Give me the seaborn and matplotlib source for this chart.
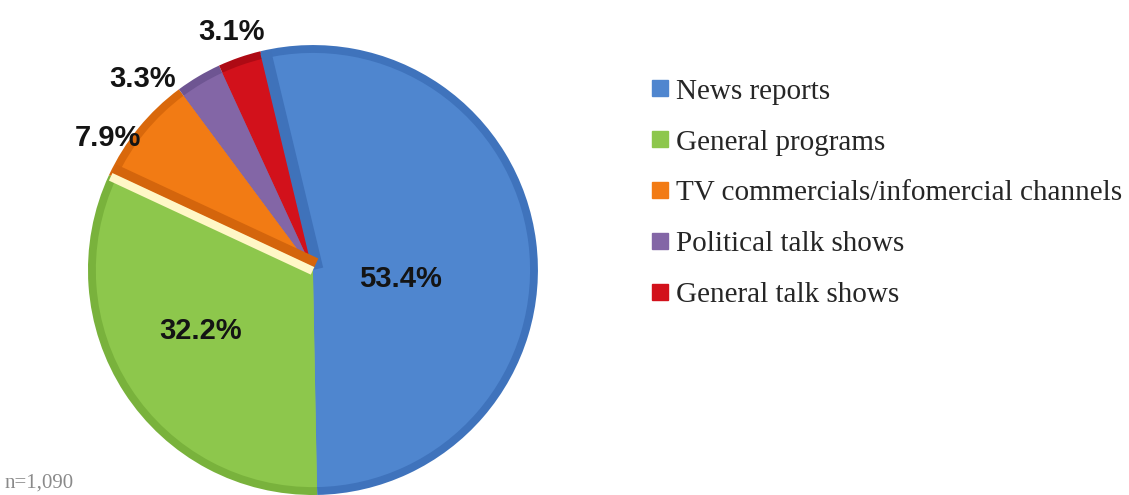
import numpy as np
import matplotlib
matplotlib.use("Agg")
import matplotlib.pyplot as plt
import seaborn as sns
from matplotlib.lines import Line2D

categories = ["News reports", "General programs", "TV commercials/infomercial channels",
              "Political talk shows", "General talk shows"]
values = [53.4, 32.2, 7.9, 3.3, 3.1]
labels = ["53.4%", "32.2%", "7.9%", "3.3%", "3.1%"]
note = "n=1,090"

colors = ["#4F86CF", "#8DC74C", "#F27B14", "#8366A6", "#D2111B"]
rim_colors = ["#3F73BC", "#79B23C", "#D9680B", "#6E5592", "#AE0A14"]
# label placement style: (radius, pixel offset x, pixel offset y)
label_style = [(0.40, -2, -20), (0.57, -5, 9), (1.10, -13, -24), (1.12, -42, -26), (1.12, 1, 0)]

sns.set_theme(style="white")
plt.rcParams["font.family"] = ["Liberation Sans", "DejaVu Sans"]

fig = plt.figure(figsize=(11.29, 4.95), dpi=100)
ax = fig.add_axes([0.0779, 0.0, 0.3986, 0.909])

start = 103.5
rim_w, _ = ax.pie(values, colors=rim_colors, startangle=start, counterclock=False, radius=1.0,
                  wedgeprops=dict(linewidth=0))
wedges, _ = ax.pie(values, colors=colors, startangle=start, counterclock=False, radius=0.965,
                   wedgeprops=dict(linewidth=0))
ax.set_aspect("equal")
ax.set_xlim(-1, 1)
ax.set_ylim(-1, 1)
ax.axis("off")

def edge_strip(theta_deg, offset, color, lw):
    t = np.deg2rad(theta_deg)
    d = np.array([np.cos(t), np.sin(t)])
    n = np.array([-d[1], d[0]]) * offset
    p0 = n
    p1 = d * 0.99 + n
    ax.plot([p0[0], p1[0]], [p0[1], p1[1]], color=color, lw=lw, solid_capstyle="butt", zorder=3)

# 3D-like side faces
edge_strip(wedges[0].theta2, -0.022, "#3F72BA", 8)       # blue start edge (darker side)
edge_strip(wedges[1].theta1, -0.035, "#D4650C", 7)       # darker orange side
edge_strip(wedges[1].theta1, 0.004, "#FFF7C6", 6)        # pale strip on green/orange edge

for w, lab, (r, ox, oy) in zip(wedges, labels, label_style):
    ang = np.deg2rad((w.theta1 + w.theta2) / 2)
    ax.annotate(lab, xy=(r * np.cos(ang), r * np.sin(ang)), xytext=(ox, oy),
                textcoords="offset pixels", ha="center", va="center",
                fontsize=21, fontweight="bold", color="#141414",
                annotation_clip=False, zorder=5)

handles = [Line2D([0], [0], marker="s", linestyle="", markersize=12,
                  markerfacecolor=c, markeredgecolor=c) for c in colors]
fig.legend(handles, categories, loc="upper left", bbox_to_anchor=(0.5713, 0.842),
           frameon=False, prop={"family": "Liberation Serif", "size": 21},
           labelspacing=0.84, handletextpad=0.05, handlelength=1.0, borderaxespad=0,
           borderpad=0)

fig.text(0.004, 0.025, note, fontsize=15, color="#8a8a8a",
         family="Liberation Serif", ha="left", va="center")

fig.savefig("out.png", dpi=100)
